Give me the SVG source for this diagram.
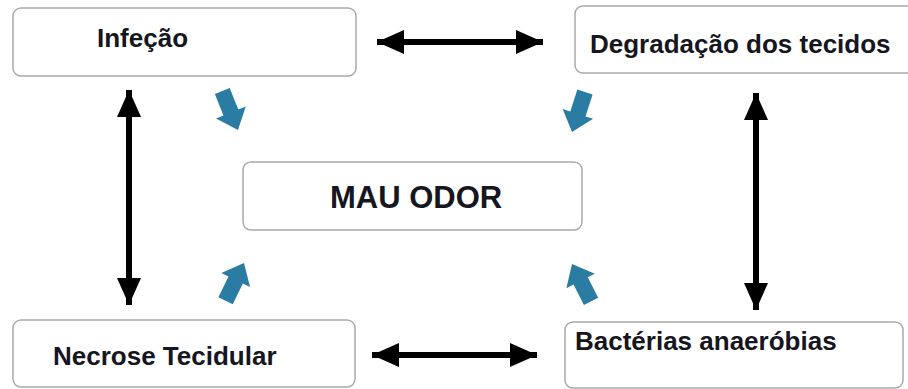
<svg xmlns="http://www.w3.org/2000/svg" width="908" height="389" viewBox="0 0 908 389">
  <style>
    .box { fill: #ffffff; stroke: #a9a9a9; stroke-width: 1.5; }
    .label { font-family: "Liberation Sans", Arial, sans-serif; font-weight: bold; font-size: 26px; fill: #161620; }
    .big { font-size: 31px; }
    .link { stroke: #000000; stroke-width: 6; fill: none; marker-start: url(#head); marker-end: url(#head); }
    .flow { fill: #2b7ca3; }
  </style>
  <defs>
    <marker id="head" markerUnits="userSpaceOnUse" markerWidth="28" markerHeight="26" refX="27" refY="13" orient="auto-start-reverse" viewBox="0 0 28 26">
      <path d="M0,1 L27,13 L0,25 Z" fill="#000000"/>
    </marker>
    <!-- block arrow pointing along +x, tip at origin -->
    <path id="block" d="M0,0 L-19,-16 L-19,-8 L-42,-8 L-42,8 L-19,8 L-19,16 Z"/>
  </defs>
  <rect width="908" height="389" fill="#ffffff"/>

  <g id="infecao">
    <rect class="box" x="13" y="8" width="343" height="68" rx="8"/>
    <text class="label" x="97" y="47">Infeção</text>
  </g>
  <g id="degradacao">
    <rect class="box" x="575" y="6" width="345" height="67" rx="8"/>
    <text class="label" x="590" y="53">Degradação dos tecidos</text>
  </g>
  <g id="mau-odor">
    <rect class="box" x="243" y="162" width="339" height="68" rx="8"/>
    <text class="label big" x="330" y="208">MAU ODOR</text>
  </g>
  <g id="necrose">
    <rect class="box" x="13" y="320" width="342" height="67" rx="8"/>
    <text class="label" x="53" y="365">Necrose Tecidular</text>
  </g>
  <g id="bacterias">
    <rect class="box" x="565" y="322" width="338" height="66" rx="8"/>
    <text class="label" x="575" y="350">Bactérias anaeróbias</text>
  </g>

  <g id="connectors">
    <line class="link" x1="377" y1="42" x2="543" y2="42"/>
    <line class="link" x1="372" y1="355" x2="537" y2="355"/>
    <line class="link" x1="129" y1="90" x2="129" y2="305"/>
    <line class="link" x1="756" y1="93" x2="756" y2="310"/>
    <use href="#block" class="flow" transform="translate(238,130) rotate(68)"/>
    <use href="#block" class="flow" transform="translate(572,132) rotate(108)"/>
    <use href="#block" class="flow" transform="translate(244,263) rotate(-64)"/>
    <use href="#block" class="flow" transform="translate(572,264) rotate(-117)"/>
  </g>
</svg>
